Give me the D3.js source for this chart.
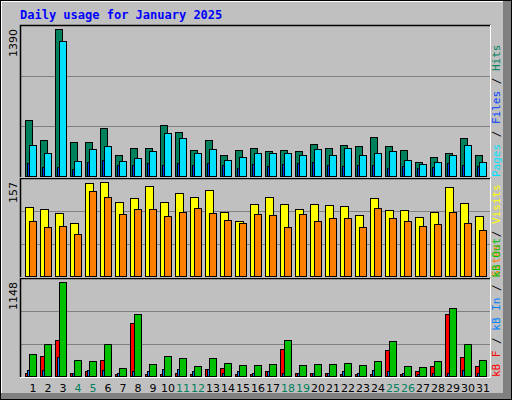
<!DOCTYPE html>
<html><head><meta charset="utf-8">
<script src="https://cdn.jsdelivr.net/npm/d3@7"></script>
<style>body{margin:0;background:#fff}</style>
</head><body>
<svg id="chart" width="512" height="400"></svg>
<script>
// values
const days = d3.range(1, 32);
const weekend = [4, 5, 11, 12, 18, 19, 25, 26];
const hits = [536,347,1390,325,325,457,202,268,277,486,419,249,344,202,249,277,240,249,240,306,277,296,287,372,287,249,145,192,230,363,202];
const files = [296,221,1280,154,259,287,154,183,240,410,363,221,259,164,192,221,221,230,202,259,202,268,211,221,240,164,126,145,202,296,145];
const pages = [136,98,98,79,145,164,117,117,136,117,136,117,136,117,88,126,107,126,136,145,117,107,117,117,88,107,88,98,136,117,107];
const visits = [116,112,106,90,155,157,124,131,150,124,138,133,143,107,92,121,133,121,112,121,119,118,102,131,111,111,99,107,148,123,100];
const sites = [92,82,85,71,142,133,104,112,112,100,107,114,106,95,90,104,102,82,104,92,97,97,83,114,97,92,85,87,107,90,77];
const kbF = [54,256,444,54,67,205,42,658,42,42,54,42,92,105,42,42,67,344,54,54,54,42,42,42,331,42,67,130,758,243,130];
const kbIn = [80,80,243,54,80,80,54,67,67,92,92,67,92,54,67,54,67,54,54,54,54,67,54,80,67,54,42,54,54,80,54];
const kbOut = [281,394,1148,205,193,394,105,758,155,256,230,130,230,168,142,142,155,444,142,155,155,168,142,193,432,130,117,193,834,394,205];

const svg = d3.select('#chart');
const font = 'DejaVu Sans Mono, monospace';

// outer frame
svg.append('rect').attr('x',0.5).attr('y',0.5).attr('width',511).attr('height',399).attr('fill','#c0c0c0').attr('stroke','#000');
svg.append('rect').attr('x',503).attr('y',1).attr('width',8).attr('height',398).attr('fill','#808080');
svg.append('rect').attr('x',1).attr('y',393).attr('width',510).attr('height',6).attr('fill','#808080');
svg.append('line').attr('x1',1).attr('x2',503).attr('y1',1.5).attr('y2',1.5).attr('stroke','#fff');
svg.append('line').attr('x1',1.5).attr('x2',1.5).attr('y1',1).attr('y2',393).attr('stroke','#fff');

svg.append('text').attr('x',20).attr('y',19).attr('fill','#0000ff').attr('font-family',font)
  .attr('font-weight','bold').attr('font-size',12).text('Daily usage for January 2025');

const x = d3.scaleLinear().domain([1, 32]).range([25, 490]);

function panel(top, bottom, max, series, legend) {
  const y = d3.scaleLinear().domain([0, max]).range([bottom, top + 4]);
  const h = bottom - top;
  const g = svg.append('g');
  g.append('rect').attr('x',20).attr('y',top).attr('width',471).attr('height',h).attr('fill','#c0c0c0');
  [1/3, 2/3].forEach(f => g.append('line').attr('x1',21).attr('x2',490)
    .attr('y1',Math.round(bottom - h*f)+0.5).attr('y2',Math.round(bottom - h*f)+0.5).attr('stroke','#808080'));
  g.append('path').attr('d',`M20.5,${bottom}V${top+0.5}H491`).attr('fill','none').attr('stroke','#000').attr('stroke-width',1.5);
  g.append('path').attr('d',`M490.5,${top}V${bottom+0.5}H20`).attr('fill','none').attr('stroke','#fff');
  series.forEach(s => {
    g.selectAll(null).data(s.data).join('rect')
      .attr('x', (d,i) => x(days[i]) + s.dx + 0.5)
      .attr('y', d => Math.round(y(d)) + 0.5)
      .attr('width', s.w)
      .attr('height', d => Math.max(0, bottom - Math.round(y(d)) - 1))
      .attr('fill', s.color).attr('stroke','#000').attr('stroke-width',1);
  });
  g.append('text').attr('transform',`translate(17,${top+4}) rotate(-90)`).attr('text-anchor','end')
    .attr('font-family','DejaVu Sans, sans-serif').attr('font-size',11).text(max);
  const t = g.append('text').attr('transform',`translate(500,${bottom}) rotate(-90)`)
    .attr('font-family',font).attr('font-size',11);
  legend.forEach((l,i) => {
    if (i) t.append('tspan').attr('fill','#000').text(' / ');
    t.append('tspan').attr('fill',l[1]).text(l[0]);
  });
}

panel(25, 177, 1390, [
  {data: hits, color:'#00805c', dx:0, w:7},
  {data: files, color:'#00e0ff', dx:4, w:7},
  {data: pages, color:'#0040ff', dx:2, w:2}
], [['Pages','#00e0ff'],['Files','#0040ff'],['Hits','#00805c']]);

panel(178, 277, 157, [
  {data: visits, color:'#ffff00', dx:0, w:8},
  {data: sites, color:'#ff8000', dx:4, w:7}
], [['Sites','#ff8000'],['Visits','#ffff00']]);

panel(278, 377, 1148, [
  {data: kbF, color:'#ff0000', dx:0, w:7},
  {data: kbIn, color:'#0080ff', dx:2, w:2},
  {data: kbOut, color:'#00c000', dx:4, w:7}
], [['kB F','#ff0000'],['kB In','#0080ff'],['kB Out','#00c000']]);

svg.selectAll('.day').data(days).join('text').attr('class','day')
  .attr('x', d => x(d) + 8).attr('y', 392).attr('text-anchor','middle')
  .attr('font-family','DejaVu Sans, sans-serif').attr('font-size',11)
  .attr('fill', d => weekend.includes(d) ? '#00805c' : '#000').text(d => d);
</script>
</body></html>
